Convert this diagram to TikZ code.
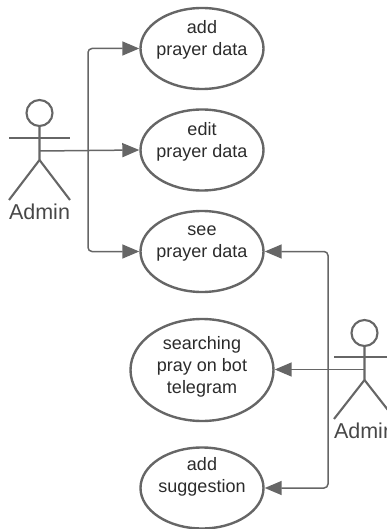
\documentclass[tikz,border=0pt]{standalone}
\usepackage{fontspec}
\setmainfont{Liberation Sans}
\usetikzlibrary{shapes.geometric,arrows.meta}
\definecolor{ln}{HTML}{666666}
\definecolor{tx}{HTML}{2B2B2B}
\tikzset{x=1pt,y=-1pt,
  usecase/.style={draw=ln,line width=2.4pt,ellipse,inner sep=-10pt,minimum width=123pt,minimum height=81pt,align=center,text=tx,font=\fontsize{18}{22}\selectfont},
  actorline/.style={draw=ln,line width=2.1pt},
  conn/.style={draw=ln,line width=1.5pt,rounded corners=4pt,-{Triangle[length=17pt,width=14pt]}},
  actorlabel/.style={text=ln!70!black,inner sep=0pt,font=\fontsize{21.5}{24}\selectfont}}
\begin{document}
\begin{tikzpicture}
\useasboundingbox (0,0) rectangle (387,529);
\clip (0,0) rectangle (387,529);
\node[usecase] (add) at (202,48.5) {add\\prayer data\\[-8.5pt]\strut};
\node[usecase] (edit) at (202,150) {edit\\prayer data\\[-8.5pt]\strut};
\node[usecase] (see) at (202,251.5) {see\\prayer data\\[-8.5pt]\strut};
\node[usecase,minimum width=143pt,minimum height=102pt] (search) at (202,370) {searching\\pray on bot\\telegram\\[-18pt]\strut};
\node[usecase] (sugg) at (202,488) {add\\suggestion\\[-2.5pt]\strut};
% left actor
\node[draw=ln,line width=2.1pt,circle,minimum size=26pt,inner sep=0pt] (headA) at (39.5,113) {};
\coordinate (hipA) at (39.5,160);
\coordinate (hubA) at (39.5,151);
\draw[actorline] (headA.south) -- (hipA) -- (9,200);
\draw[actorline] (hipA) -- (70,200);
\draw[actorline] (9,138) -- (70,138);
\node[actorlabel] (labA) at (39.5,212) {Admin};
% right actor
\node[draw=ln,line width=2.1pt,circle,minimum size=26pt,inner sep=0pt] (headB) at (364.5,333) {};
\coordinate (hipB) at (364.5,380);
\coordinate (hubB) at (364.5,369.5);
\draw[actorline] (headB.south) -- (hipB) -- (334,419);
\draw[actorline] (hipB) -- (395,419);
\draw[actorline] (334,357) -- (395,357);
\node[actorlabel] (labB) at (364.5,431) {Admin};
% connectors
\coordinate (trunkA) at (88,151);
\coordinate (trunkB) at (328,369);
\draw[conn] (hubA) -- (edit.west);
\draw[conn] (trunkA) |- (add.west);
\draw[conn] (trunkA) |- (see.west);
\draw[conn] (hubB) -- (search.east |- hubB);
\draw[conn] (trunkB) |- (see.east);
\draw[conn] (trunkB) |- (sugg.east);
\end{tikzpicture}
\end{document}
